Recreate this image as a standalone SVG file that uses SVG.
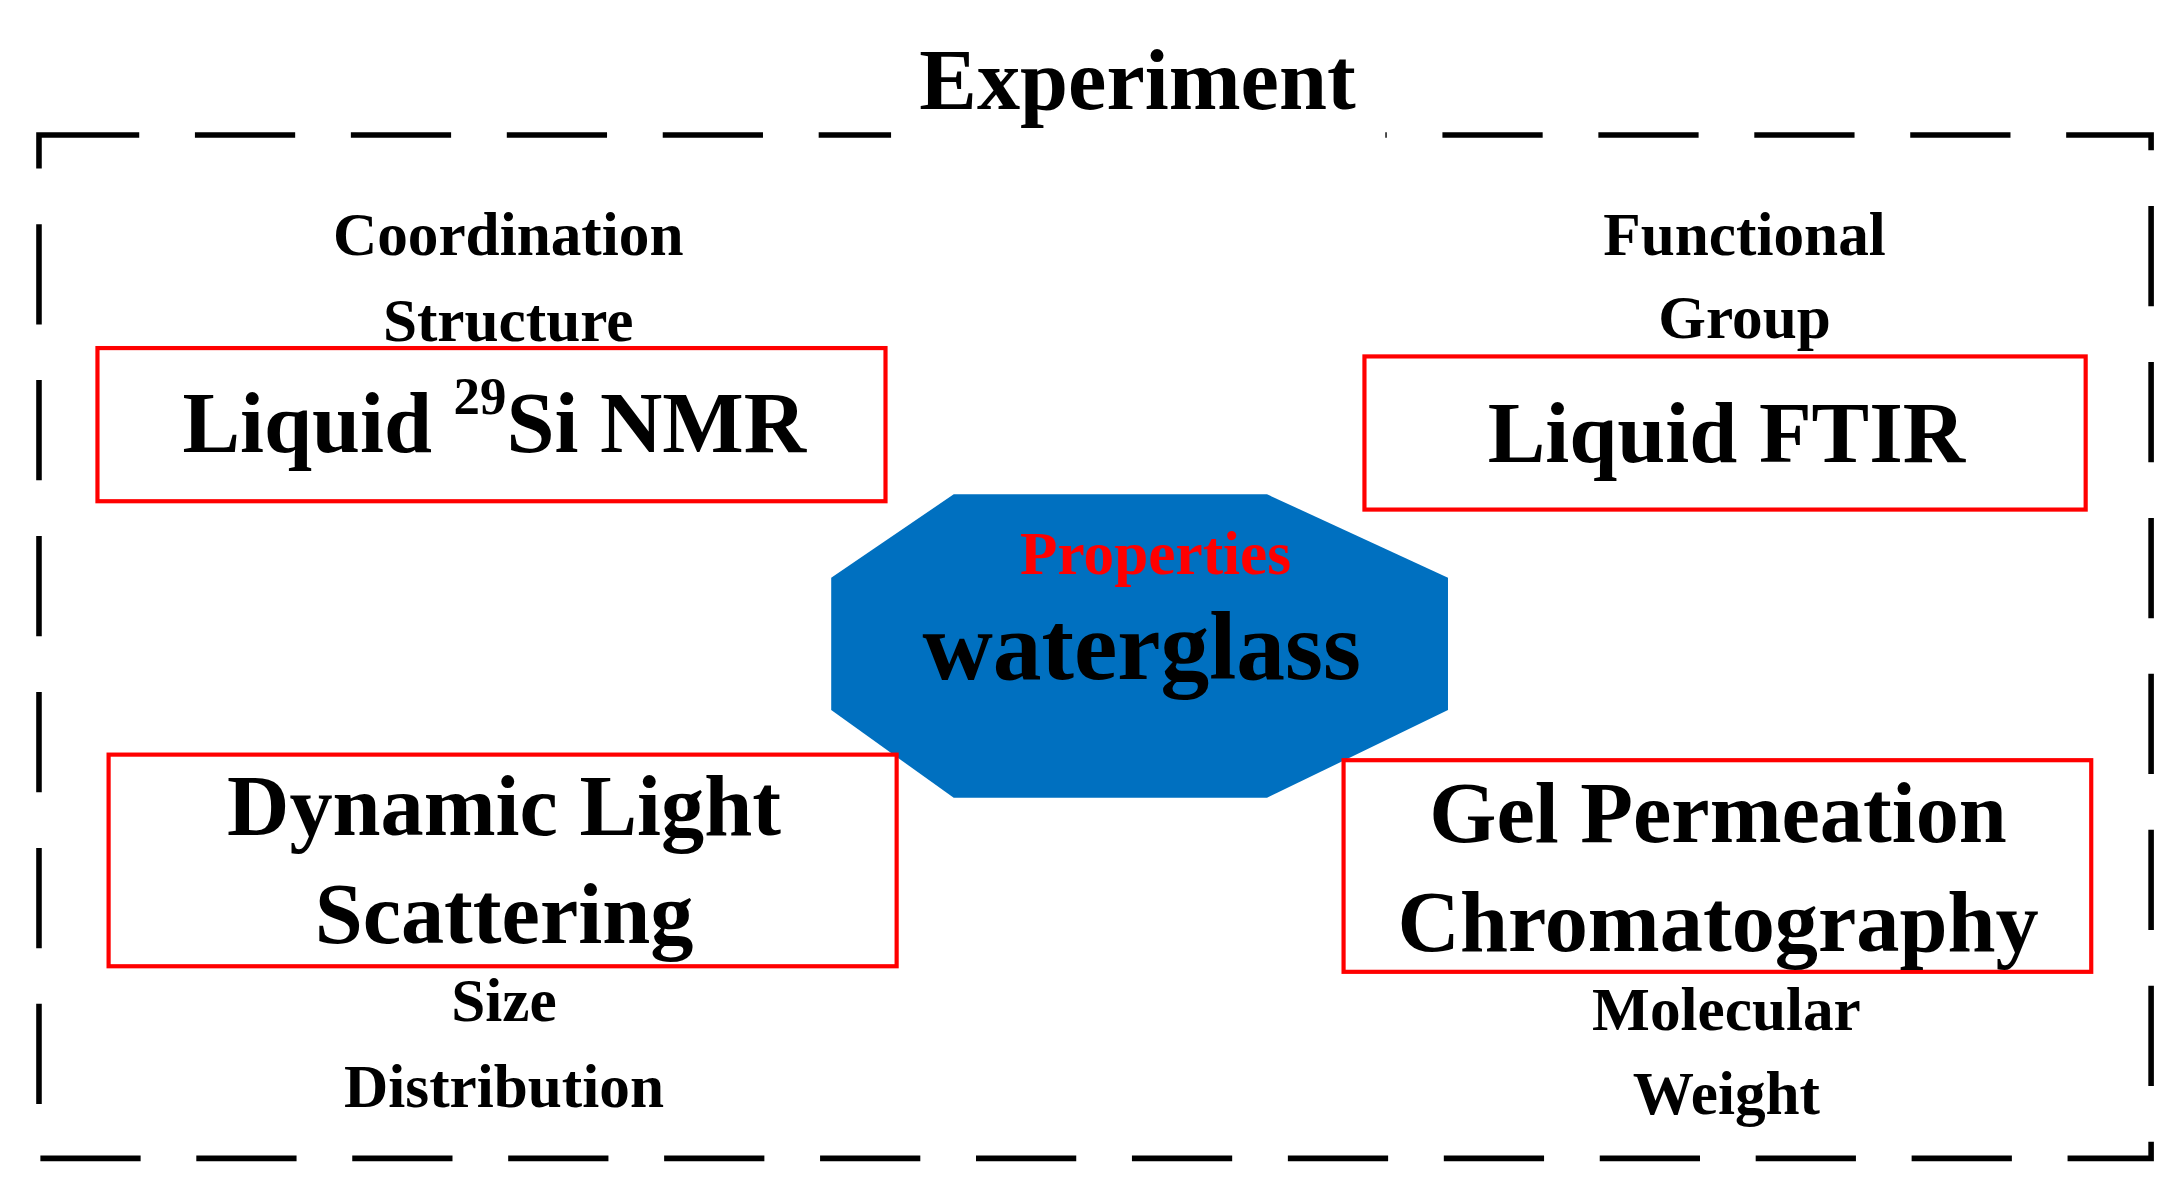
<svg xmlns="http://www.w3.org/2000/svg" width="2183" height="1191" viewBox="0 0 2183 1191">
<style>
text{font-family:"Liberation Serif","Times New Roman",serif;font-weight:bold;text-anchor:middle;fill:#000}
.lbl{font-size:44px}
.big{font-size:62px}
.box{fill:none;stroke:#ff0000;stroke-width:3}
</style>
<rect width="2183" height="1191" fill="#fff"/>
<g transform="scale(1.3923)">
<g id="frame">
<rect x="28" y="97" width="1517" height="735" fill="none" stroke="#000" stroke-width="4" stroke-dasharray="72,40"/>
<rect x="640" y="85" width="355" height="25" fill="#fff"/>
<text x="817" y="78" style="font-size:62px">Experiment</text>
</g>
<g id="connectors"/>
<g id="center">
<polygon points="597,415 685,355 910,355 1040,415 1040,510 910,573 685,573 597,510" fill="#0070C0"/>
<text x="830" y="412" class="lbl" style="fill:#ff0000">Properties</text>
<text x="820" y="488" style="font-size:70px">waterglass</text>
</g>
<g id="nmr">
<text x="365" y="183" class="lbl">Coordination</text>
<text x="365" y="245" class="lbl">Structure</text>
<rect x="70" y="250" width="566" height="110" class="box"/>
<text x="355" y="325" class="big">Liquid <tspan style="font-size:38px" dy="-28">29</tspan><tspan dy="28">Si NMR</tspan></text>
</g>
<g id="ftir">
<text x="1253" y="183" class="lbl">Functional</text>
<text x="1253" y="243" class="lbl">Group</text>
<rect x="980" y="256" width="518" height="110" class="box"/>
<text x="1240" y="332" class="big">Liquid FTIR</text>
</g>
<g id="dls">
<rect x="78" y="542" width="566" height="152" class="box"/>
<text x="362" y="600" class="big">Dynamic Light</text>
<text x="362" y="677" class="big">Scattering</text>
<text x="362" y="733" class="lbl">Size</text>
<text x="362" y="795" class="lbl">Distribution</text>
</g>
<g id="gpc">
<rect x="965" y="546" width="537" height="152" class="box"/>
<text x="1234" y="605" class="big">Gel Permeation</text>
<text x="1234" y="683" class="big">Chromatography</text>
<text x="1240" y="740" class="lbl">Molecular</text>
<text x="1240" y="800" class="lbl">Weight</text>
</g>
</g>
</svg>
